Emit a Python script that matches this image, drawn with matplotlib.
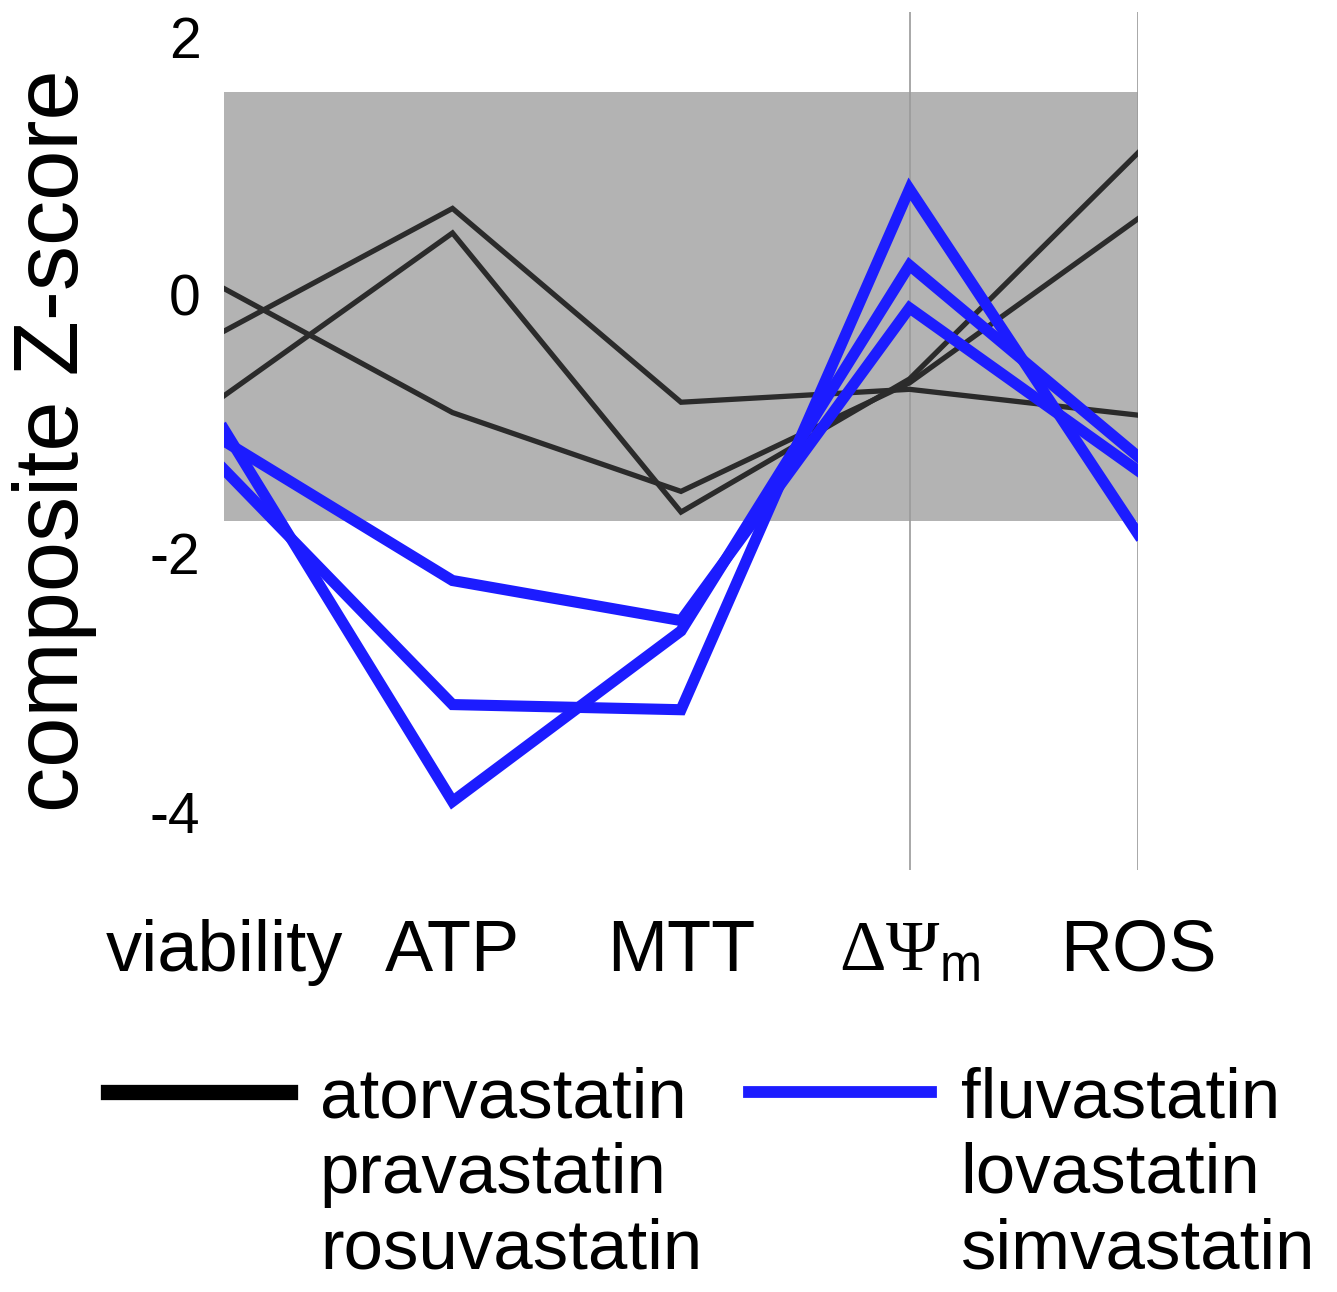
import numpy as np
import matplotlib.pyplot as plt

plt.rcParams['font.family'] = ['Liberation Sans', 'DejaVu Sans']
plt.rcParams['mathtext.fontset'] = 'custom'
plt.rcParams['mathtext.rm'] = 'Liberation Serif'
plt.rcParams['mathtext.sf'] = 'Liberation Sans'

# Endpoints (eixo x)
endpoints = ['viability', 'ATP', 'MTT', r'$\Delta\Psi_{\mathsf{m}}$', 'ROS']

# Z-scores compostos, estatinas em preto
atorvastatin = [0.05, -0.91, -1.52, -0.68, 0.59]
pravastatin = [-0.28, 0.67, -0.83, -0.73, -0.93]
rosuvastatin = [-0.78, 0.48, -1.68, -0.65, 1.10]

# estatinas em azul
fluvastatin = [-1.04, -3.92, -2.60, 0.23, -1.25]
lovastatin = [-1.13, -2.21, -2.52, -0.10, -1.36]
simvastatin = [-1.35, -3.17, -3.21, 0.82, -1.85]

# faixa cinza (intervalo de referencia)
band_lo, band_hi = -1.75, 1.57

yticks = [-4, -2, 0, 2]

black_group = ['atorvastatin', 'pravastatin', 'rosuvastatin']
blue_group = ['fluvastatin', 'lovastatin', 'simvastatin']

W, H = 1337, 1292
fig = plt.figure(figsize=(W / 100, H / 100), dpi=100)
ax = fig.add_axes([224 / W, 1 - 870 / H, (1138 - 224) / W, (870 - 12) / H])

x = np.arange(len(endpoints))
ax.fill_between([x[0], x[-1]], band_lo, band_hi, color='#b3b3b3', lw=0, zorder=0)
ax.axvline(x[3], color='#9a9a9a', lw=1.2, zorder=1)
ax.axvline(x[4], color='#9a9a9a', lw=1.2, zorder=1)

for serie in [atorvastatin, pravastatin, rosuvastatin]:
    ax.plot(x, serie, color='#2b2b2b', lw=3.8, zorder=2, solid_joinstyle='miter')
for serie in [fluvastatin, lovastatin, simvastatin]:
    ax.plot(x, serie, color='#1c1cff', lw=8, zorder=3, solid_joinstyle='miter')

ax.set_xlim(x[0], x[-1])
ax.set_ylim(-(870 - 295) / 129.2, (295 - 12) / 129.2)
for s in ax.spines.values():
    s.set_visible(False)

ax.set_yticks(yticks)
ax.set_yticklabels([str(v) for v in yticks], fontsize=41)
ax.set_xticks(x)
ax.set_xticklabels(endpoints, fontsize=52)
ax.tick_params(axis='y', length=0, pad=17)
ax.tick_params(axis='x', length=0, pad=35)

ax.set_ylabel('composite Z-score', fontsize=65)
ax.yaxis.set_label_coords(-0.139, 0.5)

# legenda: uma linha por grupo, nomes empilhados
handles = []
labels = []
for i, nome in enumerate(black_group):
    handles.append(plt.Line2D([], [], color='black', lw=11 if i == 0 else 0))
    labels.append(nome)
for i, nome in enumerate(blue_group):
    handles.append(plt.Line2D([], [], color='#1c1cff', lw=8.5 if i == 0 else 0))
    labels.append(nome)

fig.legend(handles, labels, loc='upper left', bbox_to_anchor=(108 / W, 1 - 1066 / H),
           ncol=2, frameon=False, fontsize=51, handlelength=2.57,
           handletextpad=0.42, columnspacing=0.66, labelspacing=0.14,
           borderpad=0, borderaxespad=0)

plt.savefig('out.png', dpi=100)
